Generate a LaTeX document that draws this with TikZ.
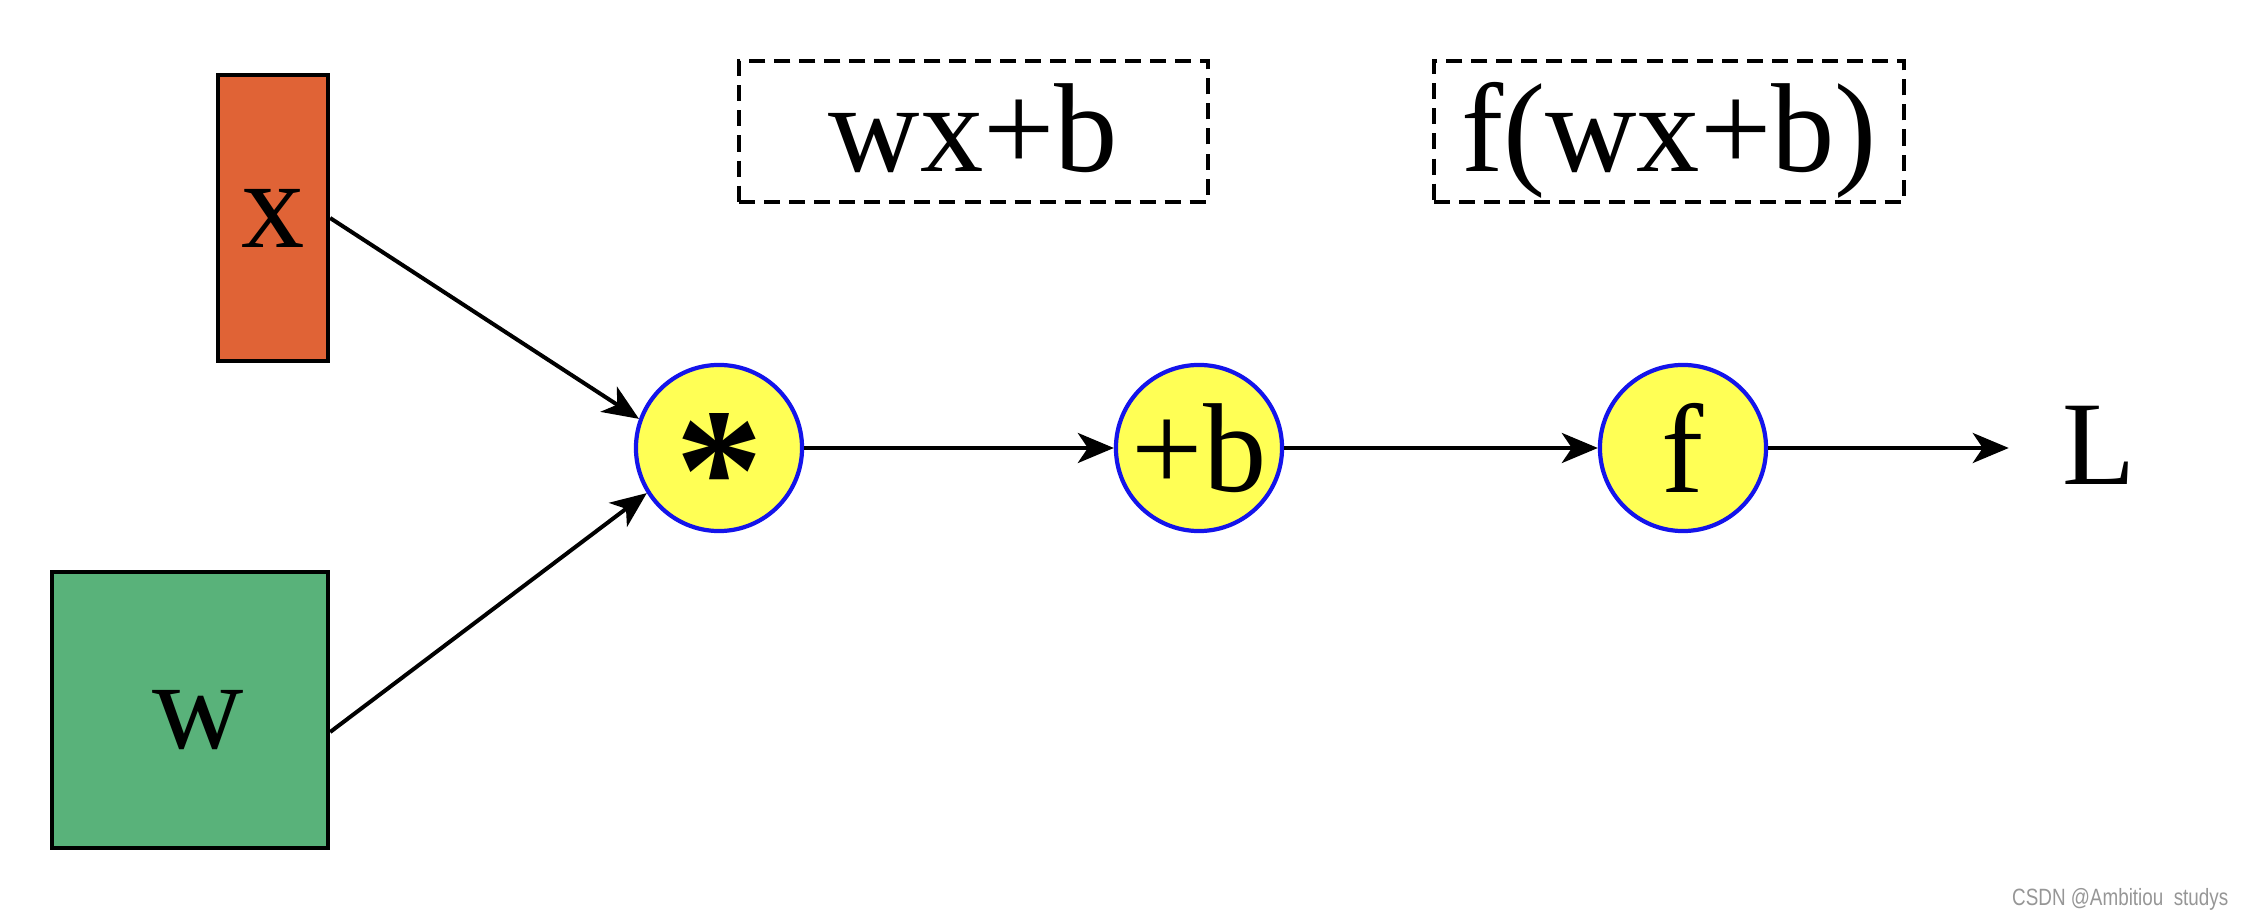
\documentclass[tikz,border=0pt]{standalone}
\usepackage{fontspec}
\setmainfont{Liberation Serif}
\newfontfamily\wmfont{Liberation Sans}
\usetikzlibrary{arrows.meta}
\definecolor{boxorange}{RGB}{224,99,54}
\definecolor{boxgreen}{RGB}{89,178,122}
\definecolor{nodeyellow}{RGB}{255,255,85}
\definecolor{nodeblue}{RGB}{20,20,235}
\definecolor{wmgray}{RGB}{150,150,150}
\begin{document}
\begin{tikzpicture}[x=0.01cm,y=-0.01cm,
  big/.style={font=\fontsize{36}{40}\selectfont},
  inbox/.style={draw=black, line width=0.042cm, inner sep=0, big},
  opnode/.style={circle, draw=nodeblue, fill=nodeyellow, line width=0.042cm, minimum size=1.66cm, inner sep=0, big},
  formula/.style={draw=black, dash pattern=on 0.16cm off 0.09cm, line width=0.04cm, inner sep=0, text height=0.79cm, text depth=0cm, big},
  flow/.style={-{Stealth[length=0.36cm,width=0.3cm,inset=0.1cm]}, line width=0.04cm},
]
\useasboundingbox (0,0) rectangle (2244,919);
\node[inbox, fill=boxorange, minimum width=1.10cm, minimum height=2.86cm] (x) at (273,218) {x};
\node[inbox, fill=boxgreen, minimum width=2.76cm, minimum height=2.76cm] (w) at (190,710) {\hspace{0.16cm}\raisebox{-0.38cm}[0pt][0pt]{w}};
\node[opnode] (mul) at (719,448) {\raisebox{-0.64em}[0pt][0pt]{\fontsize{50}{50}\selectfont\textbf{*}}};
\node[opnode] (addb) at (1199,448) {+b};
\node[opnode] (act) at (1683,448) {f};
\node[font=\fontsize{34}{40}\selectfont, inner xsep=0.53cm, inner ysep=0] (L) at (2099,445) {L};
\node[formula, minimum width=4.68cm, minimum height=1.40cm] (lin) at (973.5,131.5) {wx+b};
\node[formula, minimum width=4.69cm, minimum height=1.40cm] (fun) at (1669,131.5) {f(wx+b)};
\draw[flow] (x.east) -- (mul.160);
\draw[flow] ([yshift=-0.22cm]w.east) -- (mul.212);
\draw[flow] (mul) -- (addb);
\draw[flow] (addb) -- (act);
\draw[flow] (act) -- (act -| L.west);
\node[anchor=base east, text=wmgray, font=\wmfont\fontsize{6.7}{8}\selectfont, inner sep=0] (wm) at (2229,906) {\scalebox{0.8}[1]{CSDN @Ambitiou\ \ studys}};
\end{tikzpicture}
\end{document}
